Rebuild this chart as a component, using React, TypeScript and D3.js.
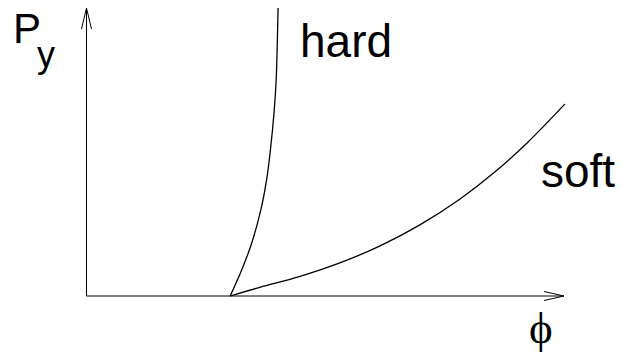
import React from "react";
import * as d3 from "d3";

// Normalised order parameter φ (x) and response P_y (y)
const hardPhi = [0.301, 0.325, 0.346, 0.365, 0.377, 0.385, 0.393, 0.397, 0.399, 0.401];
const hardP = [0, 0.09, 0.184, 0.299, 0.403, 0.507, 0.646, 0.75, 0.854, 1.0];

const softPhi = [0.301, 0.363, 0.447, 0.53, 0.614, 0.697, 0.781, 0.854, 0.923, 1.0];
const softP = [0, 0.03, 0.068, 0.115, 0.174, 0.247, 0.337, 0.431, 0.535, 0.667];

const curveLabels = ["hard", "soft"];
const yLabelMain = "P";
const yLabelSub = "y";
const xLabel = "\u03D5";

const W = 623;
const H = 355;

export default function App() {
  const x = d3.scaleLinear().domain([0, 1]).range([86, 565]);
  const y = d3.scaleLinear().domain([0, 1]).range([296, 8]);

  const hardPts: [number, number][] = hardPhi.map((p, i) => [p, hardP[i]]);
  const softPts: [number, number][] = softPhi.map((p, i) => [p, softP[i]]);

  const hardLine = d3
    .line<[number, number]>()
    .x((d) => x(d[0]))
    .y((d) => y(d[1]))
    .curve(d3.curveCatmullRom.alpha(0.5));
  const softLine = d3
    .line<[number, number]>()
    .x((d) => x(d[0]))
    .y((d) => y(d[1]))
    .curve(d3.curveCatmullRom.alpha(0.5));

  const x0 = x(0) + 0.5;
  const y0 = y(0);
  const xEnd = x(1) - 1;
  const yTop = y(1);

  const sans = "'Liberation Sans', Arial, sans-serif";

  return (
    <svg
      width={W}
      height={H}
      style={{ position: "absolute", left: 0, top: 0, background: "#fff" }}
    >
      {/* axes */}
      <line x1={x0} y1={y0} x2={x0} y2={yTop} stroke="#000" strokeWidth={1} />
      <polyline
        points={`${x0 - 5},${yTop + 21} ${x0},${yTop} ${x0 + 5},${yTop + 21}`}
        fill="none"
        stroke="#000"
        strokeWidth={1}
      />
      <line x1={x0} y1={y0} x2={xEnd} y2={y0} stroke="#000" strokeWidth={1} />
      <polyline
        points={`${xEnd - 20},${y0 - 4.5} ${xEnd},${y0} ${xEnd - 20},${y0 + 4.5}`}
        fill="none"
        stroke="#000"
        strokeWidth={1}
      />

      {/* curves */}
      <path d={hardLine(hardPts) || ""} fill="none" stroke="#000" strokeWidth={1.3} />
      <path d={softLine(softPts) || ""} fill="none" stroke="#000" strokeWidth={1.3} />

      {/* labels */}
      <text x={300} y={57} fontFamily={sans} fontSize={46} fill="#000">
        {curveLabels[0]}
      </text>
      <text x={541} y={187} fontFamily={sans} fontSize={46} fill="#000">
        {curveLabels[1]}
      </text>
      <text x={13} y={43} fontFamily={sans} fontSize={42} fill="#000">
        {yLabelMain}
      </text>
      <text x={37} y={67} fontFamily={sans} fontSize={36} fill="#000">
        {yLabelSub}
      </text>
      <text
        x={529}
        y={343}
        fontFamily="'Liberation Serif', 'DejaVu Serif', serif"
        fontSize={45}
        fill="#000"
      >
        {xLabel}
      </text>
    </svg>
  );
}
